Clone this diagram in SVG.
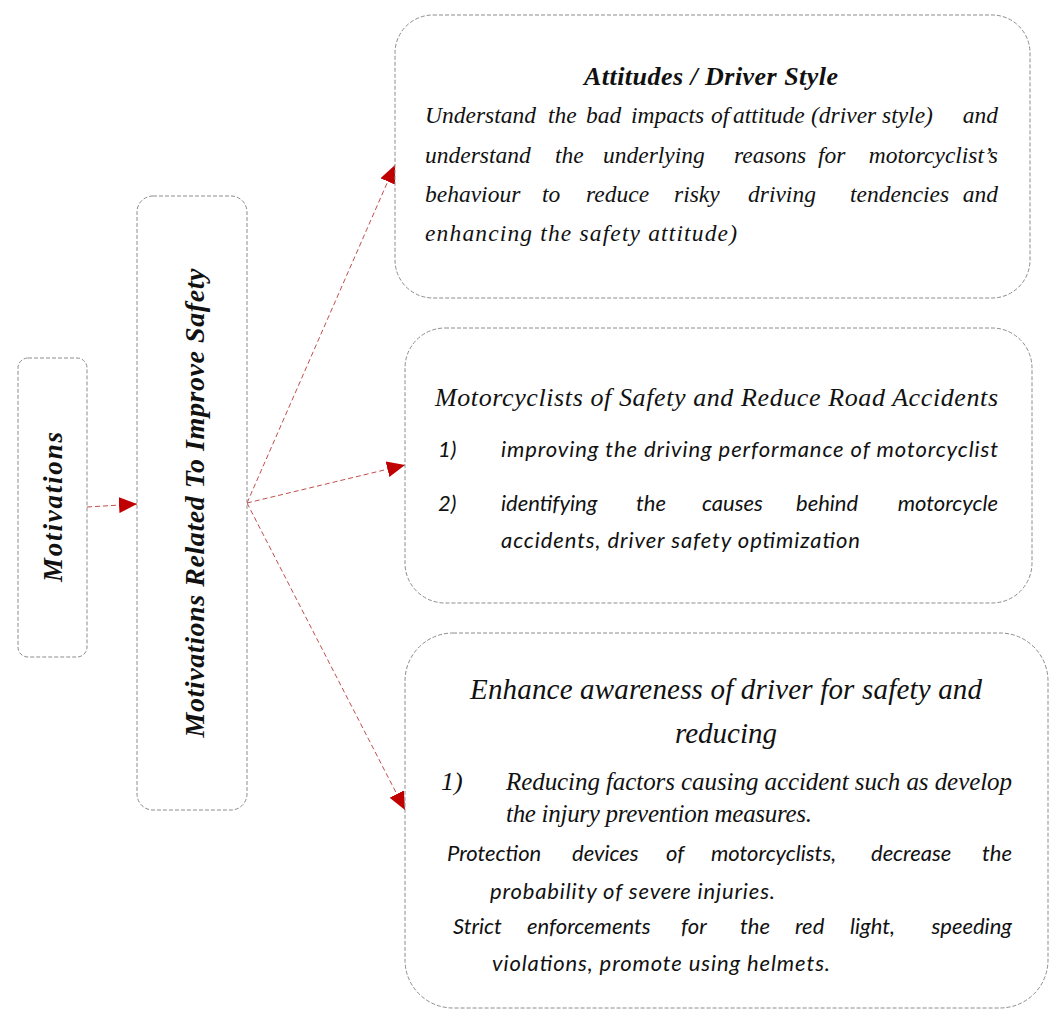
<svg xmlns="http://www.w3.org/2000/svg" width="1051" height="1010" viewBox="0 0 1051 1010">
<style>
.box{fill:#fff;stroke:#8c8c8c;stroke-width:1;stroke-dasharray:4 2}
.con{stroke:#c0504d;stroke-width:1;stroke-dasharray:5 3;fill:none}
.pal{font-family:"Liberation Serif","DejaVu Serif",serif;font-style:italic;fill:#111}
.palb{font-family:"Liberation Serif","DejaVu Serif",serif;font-style:italic;font-weight:bold;fill:#111}
.cal{font-family:Lato,"Open Sans","Liberation Sans",sans-serif;font-style:italic;fill:#111}
.end{text-anchor:end}
</style>
<defs>
<marker id="ah" viewBox="0 0 18 16" markerWidth="18" markerHeight="16" refX="18" refY="8" orient="auto" markerUnits="userSpaceOnUse">
<path d="M0,0 L18,8 L0,16 z" fill="#c00000"/>
</marker>
</defs>
<rect width="1051" height="1010" fill="#fff"/>

<g id="connectors">
<line class="con" x1="87" y1="507" x2="137" y2="504" marker-end="url(#ah)"/>
<line class="con" x1="247" y1="503" x2="395" y2="165" marker-end="url(#ah)"/>
<line class="con" x1="247" y1="503" x2="405" y2="465" marker-end="url(#ah)"/>
<line class="con" x1="247" y1="503" x2="405" y2="810" marker-end="url(#ah)"/>
</g>

<g id="node-motivations">
<rect class="box" x="18" y="358" width="69" height="299" rx="10"/>
<text class="palb" x="62" y="507" font-size="27" text-anchor="middle" textLength="150" transform="rotate(-90 62 507)">Motivations</text>
</g>

<g id="node-improve-safety">
<rect class="box" x="137" y="196" width="110" height="614" rx="16"/>
<text class="palb" x="204" y="503" font-size="28" text-anchor="middle" textLength="469" transform="rotate(-90 204 503)">Motivations Related To Improve Safety</text>
</g>

<g id="node-attitudes">
<rect class="box" x="395" y="15" width="635" height="283" rx="38"/>
<text class="palb" x="711" y="85" font-size="26" text-anchor="middle" textLength="254">Attitudes / Driver Style</text>
<text class="pal" y="123" font-size="23.5"><tspan x="425">Understand</tspan><tspan x="548">the</tspan><tspan x="586">bad</tspan><tspan x="631">impacts</tspan><tspan x="711">of</tspan><tspan x="733">attitude</tspan><tspan x="811">(driver</tspan><tspan x="882">style)</tspan><tspan x="998" class="end">and</tspan></text>
<text class="pal" y="163" font-size="23.5"><tspan x="425">understand</tspan><tspan x="555">the</tspan><tspan x="603">underlying</tspan><tspan x="734">reasons</tspan><tspan x="818">for</tspan><tspan x="998" class="end">motorcyclist’s</tspan></text>
<text class="pal" y="202" font-size="23.5"><tspan x="425">behaviour</tspan><tspan x="542">to</tspan><tspan x="586">reduce</tspan><tspan x="674">risky</tspan><tspan x="748">driving</tspan><tspan x="850">tendencies</tspan><tspan x="998" class="end">and</tspan></text>
<text class="pal" x="425" y="241" font-size="23.5" textLength="312">enhancing the safety attitude)</text>
</g>

<g id="node-reduce-accidents">
<rect class="box" x="405" y="328" width="627" height="275" rx="40"/>
<text class="pal" x="435" y="406" font-size="26" textLength="563">Motorcyclists of Safety and Reduce Road Accidents</text>
<text class="cal" x="438" y="457" font-size="22">1)</text>
<text class="cal" x="501" y="457" font-size="22" textLength="497">improving the driving performance of motorcyclist</text>
<text class="cal" x="438" y="511" font-size="22">2)</text>
<text class="cal" y="511" font-size="22"><tspan x="501">identifying</tspan><tspan x="636">the</tspan><tspan x="702">causes</tspan><tspan x="796">behind</tspan><tspan x="998" class="end">motorcycle</tspan></text>
<text class="cal" x="501" y="548" font-size="22" textLength="359">accidents, driver safety optimization</text>
</g>

<g id="node-awareness">
<rect class="box" x="405" y="633" width="643" height="375" rx="48"/>
<text class="pal" x="726" y="699" font-size="29" text-anchor="middle" textLength="512">Enhance awareness of driver for safety and</text>
<text class="pal" x="726" y="743" font-size="29" text-anchor="middle">reducing</text>
<text class="pal" x="441" y="790" font-size="26">1)</text>
<text class="pal" x="506" y="790" font-size="25" textLength="506">Reducing factors causing accident such as develop</text>
<text class="pal" x="506" y="822" font-size="25" textLength="306">the injury prevention measures.</text>
<text class="cal" y="861" font-size="22"><tspan x="447">Protection</tspan><tspan x="572">devices</tspan><tspan x="666">of</tspan><tspan x="711">motorcyclists,</tspan><tspan x="871">decrease</tspan><tspan x="1012" class="end">the</tspan></text>
<text class="cal" x="490" y="899" font-size="22" textLength="285">probability of severe injuries.</text>
<text class="cal" y="934" font-size="22"><tspan x="453">Strict</tspan><tspan x="527">enforcements</tspan><tspan x="681">for</tspan><tspan x="740">the</tspan><tspan x="795">red</tspan><tspan x="850">light,</tspan><tspan x="1012" class="end">speeding</tspan></text>
<text class="cal" x="492" y="971" font-size="22" textLength="338">violations, promote using helmets.</text>
</g>
</svg>
